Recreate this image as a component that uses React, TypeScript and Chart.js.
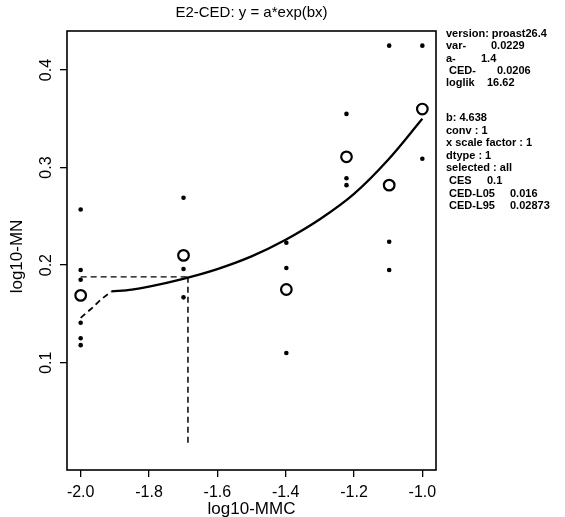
import React, { useEffect, useRef } from "react";
import { Chart, registerables } from "chart.js";
Chart.register(...registerables);

const titleText = "E2-CED: y = a*exp(bx)";
const xTitle = "log10-MMC";
const yTitle = "log10-MN";
const xTicks = [-2.0, -1.8, -1.6, -1.4, -1.2, -1.0];
const xTickLabels = ["-2.0", "-1.8", "-1.6", "-1.4", "-1.2", "-1.0"];
const yTicks = [0.1, 0.2, 0.3, 0.4];
const yTickLabels = ["0.1", "0.2", "0.3", "0.4"];

const doseLog = [-2.0, -1.699, -1.398, -1.222, -1.097, -1.0];
const groupMeans = [0.169, 0.21, 0.175, 0.311, 0.282, 0.36];

const obsX = [
  -2.0, -2.0, -2.0, -2.0, -2.0, -2.0,
  -1.699, -1.699, -1.699,
  -1.398, -1.398, -1.398,
  -1.222, -1.222, -1.222,
  -1.097, -1.097, -1.097,
  -1.0, -1.0,
];
const obsY = [
  0.257, 0.195, 0.185, 0.141, 0.125, 0.118,
  0.269, 0.196, 0.167,
  0.223, 0.197, 0.11,
  0.355, 0.289, 0.282,
  0.425, 0.224, 0.195,
  0.425, 0.309,
];

const fitX = [-1.91, -1.85, -1.8, -1.7, -1.6, -1.5, -1.4, -1.3, -1.2, -1.1, -1.0];
const fitY = [0.173, 0.175, 0.178, 0.186, 0.196, 0.209, 0.226, 0.247, 0.273, 0.308, 0.35];
const extX = [-2.0, -1.97, -1.94, -1.91];
const extY = [0.146, 0.155, 0.165, 0.173];

const cedX = -1.686;
const cedLevel = 0.188;
const cedBottom = 0.015;

const infoLabels = [
  "version: proast26.4", "var-", "a-", " CED-", "loglik",
  "", "b: 4.638", "conv : 1", "x scale factor : 1", "dtype : 1",
  "selected : all", " CES", " CED-L05", " CED-L95",
];
const infoValues = [
  "", "0.0229", "1.4", "0.0206", "16.62",
  "", "", "", "", "",
  "", "0.1", "0.016", "0.02873",
];
const infoValueX = [0, 491, 481, 497, 487, 0, 0, 0, 0, 0, 0, 487, 510, 510];

const FONT = "'Liberation Sans', Arial, Helvetica, sans-serif";

const pts = (xs: number[], ys: number[]) => xs.map((x, i) => ({ x, y: ys[i] }));

const textPlugin = {
  id: "rtext",
  afterDraw(chart: any) {
    const { ctx, chartArea, scales } = chart;
    const y = scales.y;
    ctx.save();
    ctx.strokeStyle = "#000";
    ctx.lineWidth = 1.6;
    ctx.strokeRect(chartArea.left, chartArea.top, chartArea.right - chartArea.left, chartArea.bottom - chartArea.top);
    ctx.fillStyle = "#000";
    ctx.font = `16px ${FONT}`;
    ctx.textAlign = "center";
    ctx.textBaseline = "middle";
    yTicks.forEach((v, i) => {
      const py = y.getPixelForValue(v);
      ctx.save();
      ctx.translate(47, py);
      ctx.rotate(-Math.PI / 2);
      ctx.fillText(yTickLabels[i], 0, 0);
      ctx.restore();
    });
    ctx.font = `17px ${FONT}`;
    ctx.save();
    ctx.translate(17, (chartArea.top + chartArea.bottom) / 2 + 6);
    ctx.rotate(-Math.PI / 2);
    ctx.fillText(yTitle, 0, 0);
    ctx.restore();
    ctx.fillText(xTitle, (chartArea.left + chartArea.right) / 2, 509);
    ctx.font = `15px ${FONT}`;
    ctx.fillText(titleText, (chartArea.left + chartArea.right) / 2, 13);
    ctx.font = `bold 11px ${FONT}`;
    ctx.textAlign = "left";
    infoLabels.forEach((t, i) => {
      const py = i < 5 ? 34 + i * 12.3 : 118 + (i - 6) * 12.6;
      if (t) ctx.fillText(t, 446, py);
      if (infoValues[i]) ctx.fillText(infoValues[i], infoValueX[i], py);
    });
    ctx.restore();
  },
};

export default function App() {
  const ref = useRef<HTMLCanvasElement>(null);
  useEffect(() => {
    document.body.style.margin = "0";
    const canvas = ref.current!;
    const chart = new Chart(canvas, {
      type: "scatter",
      data: {
        datasets: [
          {
            label: "obs",
            data: pts(obsX, obsY),
            pointRadius: 2.3,
            pointBackgroundColor: "#000",
            pointBorderWidth: 0,
            showLine: false,
          },
          {
            label: "means",
            data: pts(doseLog, groupMeans),
            pointRadius: 5.3,
            pointBorderWidth: 2.2,
            pointBorderColor: "#000",
            pointBackgroundColor: "rgba(0,0,0,0)",
            showLine: false,
          },
          {
            label: "fit",
            data: pts(fitX, fitY),
            showLine: true,
            pointRadius: 0,
            borderColor: "#000",
            borderWidth: 2.3,
            cubicInterpolationMode: "monotone",
          },
          {
            label: "ext",
            data: pts(extX, extY),
            showLine: true,
            pointRadius: 0,
            borderColor: "#000",
            borderWidth: 1.8,
            borderDash: [6, 4],
          },
          {
            label: "cedH",
            data: [{ x: xTicks[0], y: cedLevel }, { x: cedX, y: cedLevel }],
            showLine: true,
            pointRadius: 0,
            borderColor: "#000",
            borderWidth: 1.4,
            borderDash: [6, 4],
          },
          {
            label: "cedV",
            data: [{ x: cedX, y: cedLevel }, { x: cedX, y: cedBottom }],
            showLine: true,
            pointRadius: 0,
            borderColor: "#000",
            borderWidth: 1.5,
            borderDash: [6, 4],
          },
        ],
      } as any,
      options: {
        animation: false,
        responsive: false,
        layout: { padding: { left: 0, top: 31, right: 129, bottom: 0 } },
        plugins: { legend: { display: false }, tooltip: { enabled: false }, title: { display: false } },
        scales: {
          x: {
            type: "linear",
            min: -2.04,
            max: -0.96,
            afterBuildTicks: (s: any) => { s.ticks = xTicks.map((v) => ({ value: v })); },
            afterFit: (s: any) => { s.height = 47; },
            grid: { display: true, drawOnChartArea: false, drawTicks: true, tickLength: 7, color: "#000", lineWidth: 1.3 },
            border: { display: false },
            ticks: {
              color: "#000",
              font: { family: FONT, size: 16 },
              padding: 6,
              maxRotation: 0,
              callback: (v: any) => { const i = xTicks.indexOf(Number(v)); return i >= 0 ? xTickLabels[i] : ""; },
            },
          },
          y: {
            type: "linear",
            min: -0.01,
            max: 0.44,
            afterBuildTicks: (s: any) => { s.ticks = yTicks.map((v) => ({ value: v })); },
            afterFit: (s: any) => { s.width = 67; },
            grid: { display: true, drawOnChartArea: false, drawTicks: true, tickLength: 7, color: "#000", lineWidth: 1.3 },
            border: { display: false },
            ticks: { display: false },
          },
        },
      } as any,
      plugins: [textPlugin],
    });
    return () => chart.destroy();
  }, []);
  return <canvas ref={ref} width={565} height={517} style={{ display: "block" }} />;
}
